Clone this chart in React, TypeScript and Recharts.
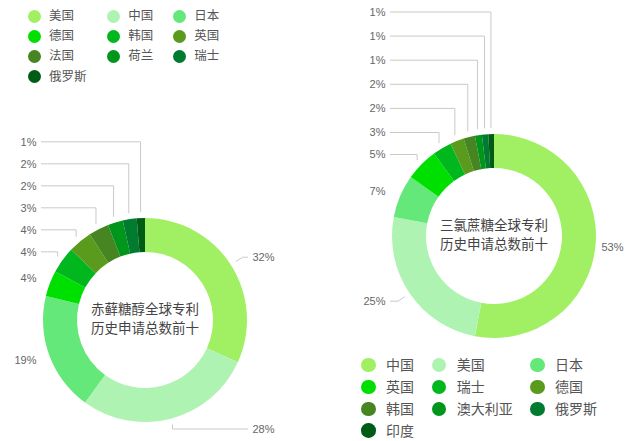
import React from 'react';
import { PieChart, Pie, Cell } from 'recharts';

// shared palette, applied to slices in rank order
const PALETTE = ['#a1f064', '#aff3b3', '#64e879', '#00e000', '#00b81e', '#5a9a1c', '#468521', '#00961b', '#007b30', '#005b15'];

const erythritolCountries = ['美国', '中国', '日本', '德国', '韩国', '英国', '法国', '荷兰', '瑞士', '俄罗斯'];
const erythritolShares = [31.8, 28.2, 18.8, 4.1, 4.2, 3.8, 3.2, 2.4, 2.2, 1.3];
const erythritolTitle = ['赤藓糖醇全球专利', '历史申请总数前十'];

const sucraloseCountries = ['中国', '美国', '日本', '英国', '瑞士', '德国', '韩国', '澳大利亚', '俄罗斯', '印度'];
const sucraloseShares = [53, 25, 6.8, 5.2, 3, 2.2, 1.8, 1.1, 1.0, 0.9];
const sucraloseTitle = ['三氯蔗糖全球专利', '历史申请总数前十'];

const FONT = '"Liberation Sans", Arial, "Noto Sans CJK SC", sans-serif';
const R_IN = 68;
const R_OUT = 102;
const LINE_GAP = 6;
const EXT = 8;
const LINE_COLOR = '#c9c9c9';

interface Plan {
  shift: number;
  vertical: boolean;
}

// spread the outside labels so they don't overlap (bottom-up push)
function planLabels(shares: number[], cy: number, gap: number, maxY: number, spreadTo?: number): Plan[] {
  const total = shares.reduce((a, b) => a + b, 0);
  let acc = 0;
  const items = shares.map((v, i) => {
    const theta = ((acc + v / 2) / total) * Math.PI * 2;
    acc += v;
    const s = Math.sin(theta);
    const c = Math.cos(theta);
    const py = cy - (R_OUT + LINE_GAP) * c;
    const ideal = py - EXT * c;
    return { i, s, c, ideal, y: Math.min(ideal, maxY) };
  });
  for (const side of [-1, 1]) {
    const group = items.filter((it) => (it.s < 0 ? -1 : 1) === side).sort((a, b) => a.ideal - b.ideal);
    for (let k = group.length - 2; k >= 0; k--) {
      group[k].y = Math.min(group[k].y, group[k + 1].y - gap);
    }
    if (spreadTo !== undefined) {
      const pushed = group.filter((it) => it.y < it.ideal - 0.5);
      if (pushed.length > 1) {
        const anchor = Math.max(...pushed.map((p) => p.y));
        const top = Math.min(...pushed.map((p) => p.y));
        if (top > spreadTo) {
          const f = (anchor - spreadTo) / (anchor - top);
          pushed.forEach((p) => (p.y = anchor - (anchor - p.y) * f));
        }
      }
    }
  }
  return items.map((it) => ({
    shift: it.y - it.ideal,
    vertical: Math.abs(it.y - it.ideal) > 1 || (it.s < 0 && it.c > 0),
  }));
}

function makeLabel(plan: Plan[]) {
  return (props: any) => {
    const { cx, cy, midAngle, outerRadius, index, value } = props;
    const rad = Math.PI / 180;
    const ux = Math.cos(-midAngle * rad);
    const uy = Math.sin(-midAngle * rad);
    const r = outerRadius + LINE_GAP;
    const px = cx + r * ux;
    const py = cy + r * uy;
    const p = plan[index];
    const y = py + EXT * uy + p.shift;
    const left = ux < 0;
    const ex = p.vertical ? px : px + EXT * ux;
    const lineX = left ? cx - 104 : cx + 103;
    const textX = left ? cx - 108.5 : cx + 107.5;
    const room = left ? ex - lineX : lineX - ex;
    return (
      <g key={`lbl-${index}`}>
        {room >= 5 && (
          <polyline
            points={`${px},${py} ${ex},${y} ${lineX},${y}`}
            fill="none"
            stroke={LINE_COLOR}
            strokeWidth={1}
          />
        )}
        <text
          x={textX}
          y={y}
          textAnchor={left ? 'end' : 'start'}
          dominantBaseline="central"
          fontSize={11}
          fill="#666"
          fontFamily={FONT}
        >
          {`${Math.round(value)}%`}
        </text>
      </g>
    );
  };
}

function Donut({ names, shares, title, cx, cy, gap, spreadTo }: {
  names: string[]; shares: number[]; title: string[]; cx: number; cy: number; gap: number; spreadTo?: number;
}) {
  const data = names.map((name, i) => ({ name, value: shares[i] }));
  const plan = planLabels(shares, cy, gap, 429, spreadTo);
  return (
    <div style={{ position: 'relative', width: 320, height: 441 }}>
      <PieChart width={320} height={441} margin={{ top: 0, right: 0, bottom: 0, left: 0 }}>
        <Pie
          data={data}
          dataKey="value"
          nameKey="name"
          cx={cx}
          cy={cy}
          innerRadius={R_IN}
          outerRadius={R_OUT}
          startAngle={90}
          endAngle={-270}
          stroke="none"
          label={makeLabel(plan)}
          labelLine={false}
          isAnimationActive={false}
        >
          {data.map((d, i) => (
            <Cell key={d.name} fill={PALETTE[i]} />
          ))}
        </Pie>
      </PieChart>
      {/* centre title */}
      <div
        style={{
          position: 'absolute', left: cx - 60, top: cy - 19, width: 120, textAlign: 'center',
          fontSize: 13.5, lineHeight: '18.5px', color: '#444', whiteSpace: 'nowrap',
        }}
      >
        {title.map((t) => (
          <div key={t}>{t}</div>
        ))}
      </div>
    </div>
  );
}

function Legend({ names, colX, top, step, dot, textGap, fontSize }: {
  names: string[]; colX: number[]; top: number; step: number; dot: number; textGap: number; fontSize: number;
}) {
  return (
    <>
      {names.map((name, i) => {
        const x = colX[i % 3];
        const y = top + Math.floor(i / 3) * step;
        return (
          <React.Fragment key={name}>
            <div
              style={{
                position: 'absolute', left: x - dot, top: y - dot, width: dot * 2, height: dot * 2,
                borderRadius: '50%', background: PALETTE[i],
              }}
            />
            <div
              style={{
                position: 'absolute', left: x + textGap, top: y - 10, height: 20, lineHeight: '20px',
                fontSize, color: '#555', whiteSpace: 'nowrap',
              }}
            >
              {name}
            </div>
          </React.Fragment>
        );
      })}
    </>
  );
}

export default function App() {
  return (
    <div style={{ position: 'absolute', left: 0, top: 0, width: 640, height: 441, background: '#fff', overflow: 'hidden', fontFamily: FONT }}>
      <div style={{ position: 'absolute', left: 0, top: 0 }}>
        <Donut names={erythritolCountries} shares={erythritolShares} title={erythritolTitle} cx={145} cy={320} gap={22} />
      </div>
      <div style={{ position: 'absolute', left: 320, top: 0 }}>
        <Donut names={sucraloseCountries} shares={sucraloseShares} title={sucraloseTitle} cx={174} cy={236} gap={22} spreadTo={12} />
      </div>
      <Legend names={erythritolCountries} colX={[34, 113.3, 179.3]} top={16} step={20.2} dot={6.5} textGap={15} fontSize={12.5} />
      <Legend names={sucraloseCountries} colX={[368.3, 439, 537.3]} top={365} step={21.9} dot={7.3} textGap={17.7} fontSize={14} />
    </div>
  );
}
